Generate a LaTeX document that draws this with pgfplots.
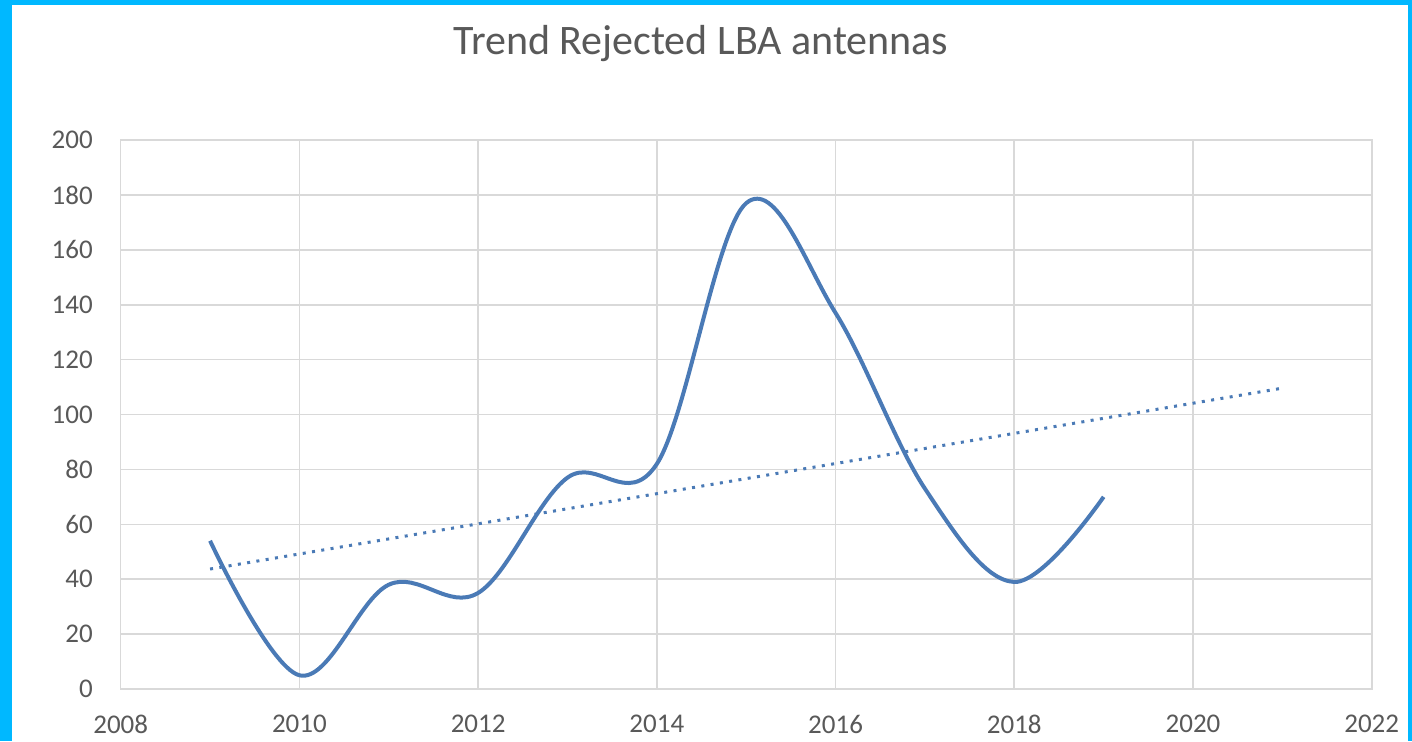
\documentclass[border=0pt]{standalone}
\usepackage{pgfplots}
\pgfplotsset{compat=1.18}
\usepackage{fontspec}
\setmainfont{Carlito}
\definecolor{frame}{RGB}{0,184,255}
\definecolor{txt}{RGB}{89,89,89}
\definecolor{gridc}{RGB}{217,217,217}
\definecolor{line}{RGB}{74,122,182}
\begin{document}
\begin{tikzpicture}[x=1pt,y=1pt]
\fill[frame] (-60.35,-26) rectangle (645.65,344.5);
\fill[white] (-54.35,-26) rectangle (643.65,342);
\begin{axis}[
  at={(0,0)}, anchor=south west,
  scale only axis, width=625.5pt, height=274.5pt,
  xmin=2008, xmax=2022, ymin=0, ymax=200,
  xtick={2008,2010,...,2022}, ytick={0,20,...,200},
  grid=major, major grid style={gridc, line width=0.8pt},
  axis line style={gridc, line width=0.8pt},
  tick style={draw=none},
  /pgf/number format/assume math mode=true,
  /pgf/number format/1000 sep={},
  ticklabel style={font=\fontsize{13.5}{15}\selectfont, text=txt, inner sep=0pt},
  xticklabel style={anchor=center, yshift=-17.5pt},
  yticklabel style={anchor=east, xshift=-13.8pt},
  clip=false,
]
\addplot[line, line width=2pt, smooth, tension=0.6] coordinates {
  (2009,54) (2010,5) (2011,38) (2012,35) (2013,77) (2014,82)
  (2015,177) (2016,137) (2017,73) (2018,39) (2019,70)
};
\addplot[line, line width=1.5pt, dash pattern=on 1.5pt off 3.2pt] coordinates {
  (2009,43.7) (2021,109.6)
};
\end{axis}
\node[text=txt, font=\fontsize{21}{24}\selectfont, anchor=base] at (290,317) {Trend Rejected LBA antennas};
\end{tikzpicture}
\end{document}
